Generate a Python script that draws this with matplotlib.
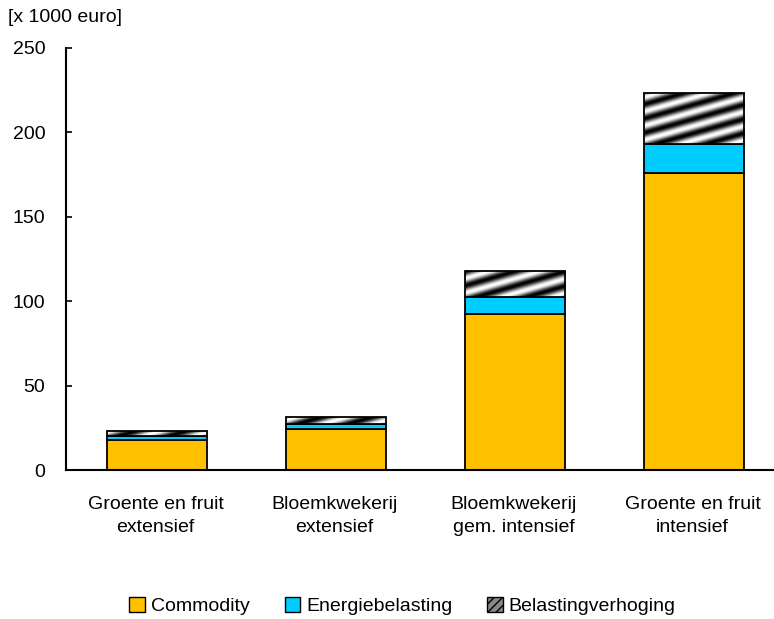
import numpy as np
import matplotlib
matplotlib.use("Agg")
import matplotlib.pyplot as plt
from matplotlib.patches import Patch

plt.rcParams['font.family'] = ['Liberation Sans', 'DejaVu Sans']

categories = ["Groente en fruit\nextensief", "Bloemkwekerij\nextensief",
              "Bloemkwekerij\ngem. intensief", "Groente en fruit\nintensief"]
commodity = [18.0, 24.0, 92.5, 176.0]
energiebelasting = [2.0, 3.2, 10.0, 17.0]
belastingverhoging = [3.3, 4.0, 15.5, 30.5]
series_names = ["Commodity", "Energiebelasting", "Belastingverhoging"]
yticks = [0, 50, 100, 150, 200, 250]

fig = plt.figure(figsize=(7.74, 6.19), dpi=100)
ax = fig.add_axes([0.0853, 0.2407, 0.925, 0.6818])
ax.set_xlim(-0.5, 3.5)
ax.set_ylim(0, 250)

x = np.arange(len(categories))
width = 0.56
ax.bar(x + 0.01, commodity, width, color="#FFC000", edgecolor="black", linewidth=1.3, zorder=2)
ax.bar(x + 0.01, energiebelasting, width, bottom=commodity, color="#00CCFF",
       edgecolor="black", linewidth=1.3, zorder=2)
bottom2 = np.array(commodity) + np.array(energiebelasting)
top_bars = ax.bar(x + 0.01, belastingverhoging, width, bottom=bottom2, color="none",
                  edgecolor="black", linewidth=1.3, zorder=4)

# diagonal shaded stripes clipped to each top segment
for rect in top_bars:
    x0, y0 = rect.get_x(), rect.get_y()
    w, h = rect.get_width(), rect.get_height()
    p0 = ax.transData.transform((x0, y0))
    p1 = ax.transData.transform((x0 + w, y0 + h))
    npx = max(int(round(p1[0] - p0[0])), 2)
    npy = max(int(round(p1[1] - p0[1])), 2)
    xx, yy = np.meshgrid(np.arange(npx), np.arange(npy))
    phase = (yy - 0.28 * xx) / 14.0 * 2 * np.pi
    img = 0.5 + 0.5 * np.sin(phase)
    im = ax.imshow(img, cmap="gray", vmin=0, vmax=1, origin="lower",
                   extent=(x0, x0 + w, y0, y0 + h), aspect="auto",
                   interpolation="bilinear", zorder=3)
    clip = plt.Rectangle((x0, y0), w, h, transform=ax.transData)
    im.set_clip_path(clip)

ax.set_xlim(-0.5, 3.5)
ax.set_ylim(0, 250)
ax.set_xticks(x)
ax.set_xticklabels(categories, fontsize=14, linespacing=1.45)
ax.set_yticks(yticks)
ax.set_yticklabels([str(v) for v in yticks], fontsize=14)
ax.tick_params(axis="x", length=0, pad=19)
ax.tick_params(axis="y", direction="in", length=4, width=1.2, pad=15)
ax.spines["top"].set_visible(False)
ax.spines["right"].set_visible(False)
for s in ("left", "bottom"):
    ax.spines[s].set_linewidth(1.5)

fig.text(0.01, 0.971, "[x 1000 euro]", fontsize=14, va="center", ha="left")

handles = [Patch(facecolor="#FFC000", edgecolor="black"),
           Patch(facecolor="#00CCFF", edgecolor="black"),
           Patch(facecolor="#888888", edgecolor="black", hatch="////")]
fig.legend(handles, series_names, loc="center", bbox_to_anchor=(0.52, 0.021),
           ncol=3, frameon=False, fontsize=14, handlelength=0.8, handleheight=0.8,
           handletextpad=0.3, columnspacing=1.8)

fig.savefig("out.png", dpi=100)
